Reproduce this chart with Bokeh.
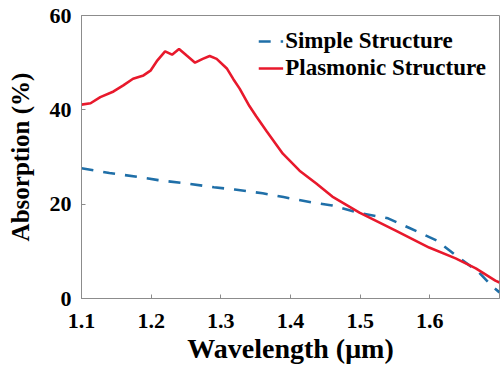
from bokeh.plotting import figure
from bokeh.models import Range1d, FixedTicker, Legend, LegendItem
from bokeh.embed import file_html
from bokeh.resources import INLINE

# data
simple_wl = [1.10, 1.14, 1.18, 1.21, 1.25, 1.29, 1.32, 1.36, 1.39, 1.43, 1.46, 1.50,
             1.54, 1.57, 1.61, 1.635, 1.67, 1.69, 1.70]
simple_abs = [27.6, 26.6, 25.8, 25.1, 24.4, 23.6, 23.1, 22.3, 21.5, 20.4, 19.7, 18.1,
              17.0, 15.0, 12.3, 9.4, 5.6, 2.5, 1.3]

plasm_wl = [1.100, 1.113, 1.127, 1.146, 1.160, 1.174, 1.189, 1.199, 1.209, 1.220, 1.230,
            1.240, 1.251, 1.263, 1.274, 1.284, 1.294, 1.309, 1.318, 1.327, 1.341, 1.351,
            1.366, 1.389, 1.413, 1.437, 1.460, 1.499, 1.551, 1.599, 1.637, 1.666, 1.694, 1.700]
plasm_abs = [41.1, 41.4, 42.7, 43.9, 45.2, 46.6, 47.3, 48.3, 50.5, 52.4, 51.7,
             52.9, 51.5, 50.0, 50.8, 51.4, 50.8, 48.7, 46.5, 44.5, 40.8, 38.6,
             35.4, 30.7, 27.1, 24.4, 21.6, 18.2, 14.4, 10.8, 8.5, 6.4, 3.8, 3.4]

x_ticks = [1.1, 1.2, 1.3, 1.4, 1.5, 1.6]
y_ticks = [0, 20, 40, 60]

FONT = "Liberation Serif"
AXIS_GRAY = "#8c8c8c"

p = figure(width=500, height=371, output_backend="svg", toolbar_location=None,
           x_range=Range1d(1.1, 1.7), y_range=Range1d(0, 60),
           min_border_left=81, min_border_top=15, min_border_right=1, min_border_bottom=73)
p.grid.visible = False
p.outline_line_color = AXIS_GRAY
p.background_fill_color = "white"
p.border_fill_color = "white"

blue = p.line(simple_wl, simple_abs, line_color="#1f6fa8", line_width=2.6, line_dash="12 10")
red = p.line(plasm_wl, plasm_abs, line_color="#e8192c", line_width=2.6)

for ax in (p.xaxis[0], p.yaxis[0]):
    ax.axis_line_color = AXIS_GRAY
    ax.major_tick_line_color = AXIS_GRAY
    ax.major_tick_in = 4
    ax.major_tick_out = 0
    ax.minor_tick_line_color = None
    ax.major_label_text_font = FONT
    ax.major_label_text_font_style = "bold"
    ax.major_label_text_font_size = "22px"
    ax.major_label_text_color = "black"
    ax.axis_label_text_font = FONT
    ax.axis_label_text_font_style = "bold"
    ax.axis_label_text_color = "black"

p.xaxis[0].ticker = FixedTicker(ticks=x_ticks)
p.yaxis[0].ticker = FixedTicker(ticks=y_ticks)
p.xaxis[0].axis_label = "Wavelength (\u03bcm)"
p.yaxis[0].axis_label = "Absorption (%)"
p.xaxis[0].axis_label_text_font_size = "28px"
p.yaxis[0].axis_label_text_font_size = "25px"
p.xaxis[0].major_label_standoff = 15
p.yaxis[0].major_label_standoff = 10
p.xaxis[0].axis_label_standoff = 2
p.yaxis[0].axis_label_standoff = 13

legend = Legend(items=[LegendItem(label="Simple Structure", renderers=[blue]),
                       LegendItem(label="Plasmonic Structure", renderers=[red])],
                location="top_right")
legend.label_text_font = FONT
legend.label_text_font_style = "bold"
legend.label_text_font_size = "23px"
legend.label_text_color = "black"
legend.border_line_color = None
legend.background_fill_alpha = 0
legend.glyph_width = 25
legend.glyph_height = 24
legend.label_height = 24
legend.spacing = 1
legend.padding = 0
legend.margin = 13
legend.label_standoff = 2
p.add_layout(legend)

open("out.html", "w").write(file_html(p, INLINE))
